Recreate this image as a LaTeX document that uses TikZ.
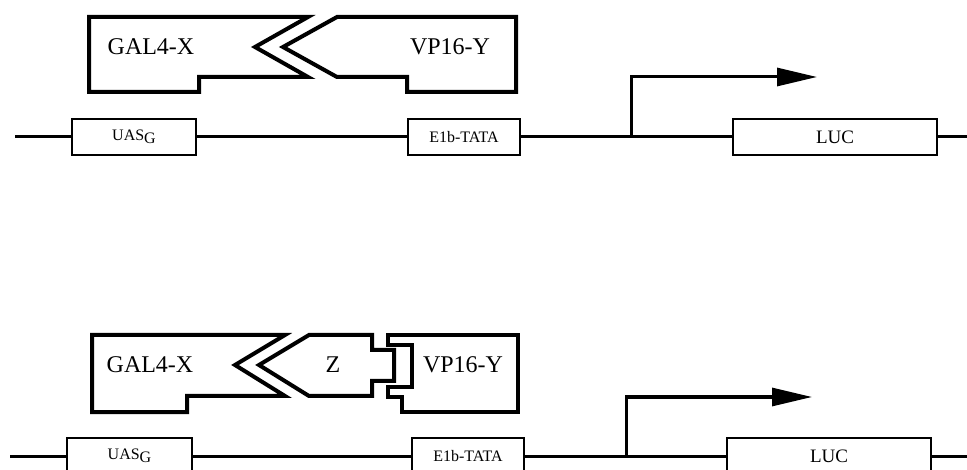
\documentclass[tikz,border=0pt]{standalone}
\usepackage{fontspec}
\setmainfont{Liberation Serif}
\usetikzlibrary{arrows.meta}

\begin{document}
\begin{tikzpicture}[
    x=1pt, y=-1pt,
    dna/.style={line width=3pt},
    prot/.style={draw, line width=4pt, line join=miter},
    element/.style={rectangle, draw, line width=2pt, fill=white,
                    minimum height=36pt, inner sep=0pt,
                    font=\fontsize{16}{18}\selectfont},
    luc/.style={element, minimum width=204pt, font=\fontsize{19}{22}\selectfont},
    lbl/.style={font=\fontsize{24}{28}\selectfont, inner sep=0pt},
    tss/.style={line width=3pt, -{Triangle[length=40pt, width=18pt]}}
  ]
  \clip (0,0) rectangle (967,470);

  % two hybrid, no bridge
  \draw[prot] (89,17) -- (308,17) -- (255,47) -- (308,77) -- (199,77)
    -- (199,92) -- (89,92) -- cycle;
  \draw[prot] (337,17) -- (516,17) -- (516,92) -- (407,92) -- (407,77)
    -- (337,77) -- (283,47) -- cycle;
  \node[lbl] (gal) at (151,47) {GAL4-X};
  \node[lbl] (vp) at (450,47) {VP16-Y};

  \coordinate (dnastart) at (15,137);
  \coordinate (dnaend) at (970,137);
  \node[element, minimum width=124pt] (uas) at (134,137) {UAS\raisebox{-3pt}{G}};
  \node[element, minimum width=112pt] (tata) at (464,137) {E1b-TATA};
  \node[luc] (luc) at (835,137) {LUC};
  \draw[dna] (dnastart) -- (uas);
  \draw[dna] (uas) -- (tata);
  \draw[dna] (tata) -- (luc);
  \draw[dna] (luc) -- (dnaend);
  \coordinate (start) at (631,137);
  \coordinate (tip) at (817,77);
  \draw[tss] (start) |- (tip);

  % two hybrid, bridged by Z
  \draw[prot] (92,335) -- (285,335) -- (235,365) -- (285,396) -- (187,396)
    -- (187,412) -- (92,412) -- cycle;
  \draw[prot] (309,335) -- (372,335) -- (372,350) -- (394,350) -- (394,381)
    -- (372,381) -- (372,396) -- (309,396) -- (259,365) -- cycle;
  \draw[prot] (388,335) -- (518,335) -- (518,412) -- (402,412) -- (402,397)
    -- (388,397) -- (388,387) -- (412,387) -- (412,345) -- (388,345) -- cycle;
  \node[lbl] (galb) at (150,365) {GAL4-X};
  \node[lbl] (zb) at (333,365) {Z};
  \node[lbl] (vpb) at (463,365) {VP16-Y};

  \coordinate (dnastartb) at (10,456);
  \coordinate (dnaendb) at (970,456);
  \node[element, minimum width=125pt] (uasb) at (129.5,456) {UAS\raisebox{-3pt}{G}};
  \node[element, minimum width=112pt] (tatab) at (468,456) {E1b-TATA};
  \node[luc] (lucb) at (829,456) {LUC};
  \draw[dna] (dnastartb) -- (uasb);
  \draw[dna] (uasb) -- (tatab);
  \draw[dna] (tatab) -- (lucb);
  \draw[dna] (lucb) -- (dnaendb);
  \coordinate (startb) at (626,456);
  \coordinate (tipb) at (812,397);
  \draw[tss] (startb) |- (tipb);
\end{tikzpicture}
\end{document}
